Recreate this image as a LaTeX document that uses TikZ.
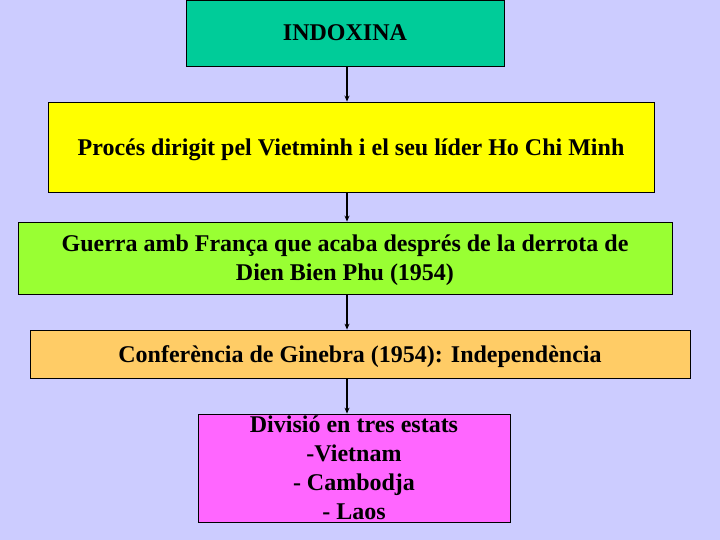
\documentclass[tikz,border=0pt]{standalone}
\usepackage{fontspec}
\setmainfont{Liberation Serif}
\usetikzlibrary{arrows.meta}

\definecolor{fons}{HTML}{CCCCFF}
\definecolor{verdblau}{HTML}{00CC99}
\definecolor{groc}{HTML}{FFFF00}
\definecolor{verd}{HTML}{99FF33}
\definecolor{taronja}{HTML}{FFCC66}
\definecolor{rosa}{HTML}{FF66FF}

\tikzset{
  caixa/.style={draw=black, line width=0.8pt, rectangle, inner sep=0pt, align=center,
    text depth=0pt, font=\fontsize{24}{29}\selectfont\bfseries},
  fletxa/.style={line width=1.5pt, -{Stealth[length=6pt,width=5pt]}}
}

\begin{document}
\begin{tikzpicture}[x=1pt,y=-1pt]
      \fill[fons] (0,0) rectangle (720,540);
      \useasboundingbox (0,0) rectangle (720,540);
      \node[caixa, fill=verdblau, minimum width=318, minimum height=66] (indo) at (345,33) {INDOXINA};
      \node[caixa, fill=groc, minimum width=606, minimum height=90] (proces) at (351,147)
        {Procés dirigit pel Vietminh i el seu líder Ho Chi Minh};
      \node[caixa, fill=verd, minimum width=654, minimum height=72] (guerra) at (345,258)
        {Guerra amb França que acaba després de la derrota de\\Dien Bien Phu (1954)};
      \node[caixa, fill=taronja, minimum width=660, minimum height=48] (conf) at (360,354)
        {Conferència de Ginebra (1954): Independència};
      \node[caixa, fill=rosa, minimum width=312, minimum height=108] (divisio) at (354,468)
        {Divisió en tres estats\\-Vietnam\\- Cambodja\\- Laos};
      \coordinate (eix) at (347,0);
      \draw[fletxa] (indo.south -| eix) -- (proces.north -| eix);
      \draw[fletxa] (proces.south -| eix) -- (guerra.north -| eix);
      \draw[fletxa] (guerra.south -| eix) -- (conf.north -| eix);
      \draw[fletxa] (conf.south -| eix) -- (divisio.north -| eix);
    \end{tikzpicture}
\end{document}
